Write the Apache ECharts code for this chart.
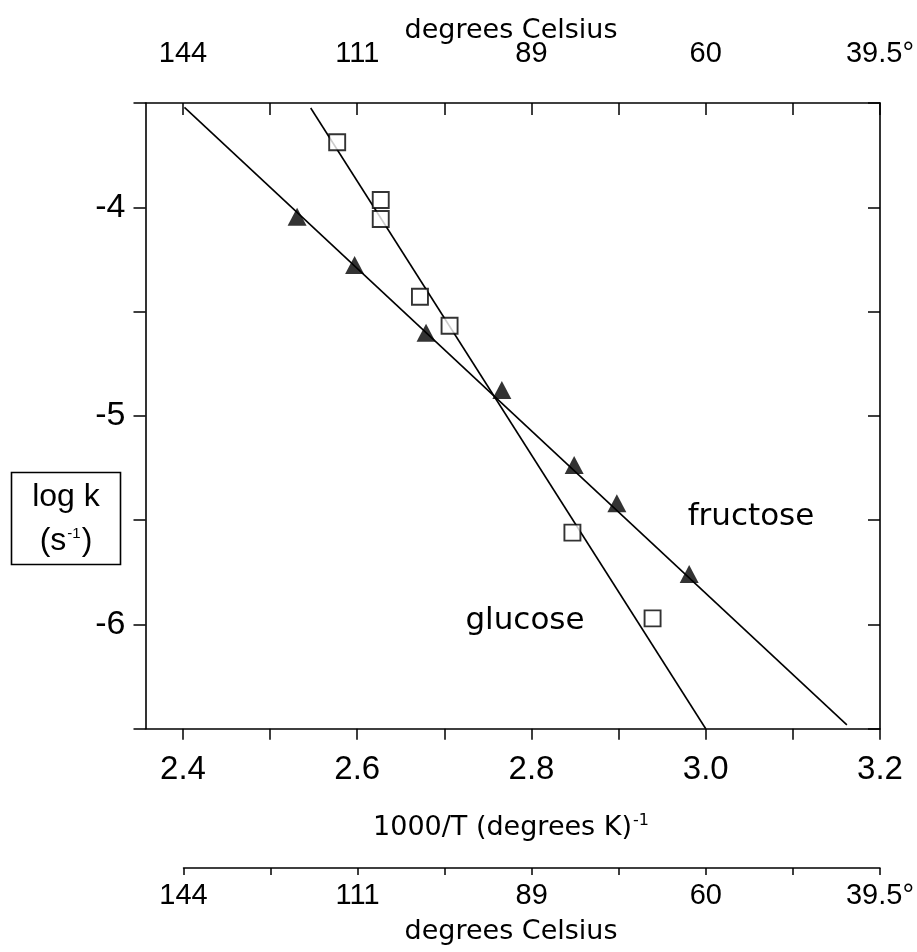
<!DOCTYPE html>
<html><head><meta charset="utf-8">
<script src="https://cdn.jsdelivr.net/npm/echarts@6/dist/echarts.min.js"></script>
<style>html,body{margin:0;padding:0;background:#fff}#c{width:917px;height:952px}</style>
</head><body><div id="c"></div>
<script>
// ---- data ----
const xTicks = [2.4, 2.5, 2.6, 2.7, 2.8, 2.9, 3.0, 3.1, 3.2];
const xLabelVals = [2.4, 2.6, 2.8, 3.0, 3.2];
const celsiusLabels = ['144', '111', '89', '60', '39.5°'];
const yTicks = [-6.5, -6, -5.5, -5, -4.5, -4, -3.5];
const yLabelVals = [-6, -5, -4];

const glucoseX = [2.577, 2.627, 2.627, 2.672, 2.706, 2.847, 2.939];
const glucoseY = [-3.688, -3.965, -4.056, -4.429, -4.568, -5.560, -5.971];
const fructoseX = [2.531, 2.597, 2.679, 2.766, 2.849, 2.898, 2.981];
const fructoseY = [-4.045, -4.277, -4.601, -4.876, -5.236, -5.419, -5.758];

const glucoseFitX = [2.5466, 3.0];
const glucoseFitY = [-3.524, -6.5];
const fructoseFitX = [2.4017, 3.162];
const fructoseFitY = [-3.521, -6.482];

// ---- helpers ----
const zip = (a, b) => a.map((v, i) => [v, b[i]]);
const near = (a, b) => Math.abs(a - b) < 1e-6;
const celsiusFmt = v => { const i = xLabelVals.findIndex(t => near(t, v)); return i < 0 ? '' : celsiusLabels[i]; };

const black = '#000';
const numFont = "'Liberation Sans', Arial, sans-serif";
const narrowFont = "'Liberation Sans Narrow', 'Arial Narrow', 'Liberation Sans', Arial, sans-serif";
const titleFont = "'DejaVu Sans', Verdana, sans-serif";

const chart = echarts.init(document.getElementById('c'), null, { renderer: 'canvas' });
chart.setOption({
  animation: false,
  backgroundColor: '#fff',
  grid: [
    { left: 145.5, right: 32, top: 103, bottom: 223.3 },
    { left: 183.5, right: 32, top: 867, height: 1 }
  ],
  xAxis: [
    {
      type: 'value', gridIndex: 0, position: 'bottom', min: 2.357, max: 3.2,
      axisLine: { show: true, onZero: false, lineStyle: { color: black, width: 1.6 } },
      axisTick: { show: true, inside: false, length: 11, customValues: xTicks, lineStyle: { color: black, width: 1.5 } },
      axisLabel: { show: true, customValues: xLabelVals, margin: 25, formatter: v => v.toFixed(1),
        color: black, fontSize: 33, fontFamily: numFont },
      splitLine: { show: false }
    },
    {
      type: 'value', gridIndex: 0, position: 'top', min: 2.357, max: 3.2,
      axisLine: { show: true, onZero: false, lineStyle: { color: black, width: 1.6 } },
      axisTick: { show: true, inside: true, length: 12, customValues: xTicks, lineStyle: { color: black, width: 1.5 } },
      axisLabel: { show: true, customValues: xLabelVals, margin: 35, formatter: celsiusFmt,
        color: black, fontSize: 29, fontFamily: narrowFont },
      splitLine: { show: false }
    },
    {
      type: 'value', gridIndex: 1, position: 'bottom', min: 2.4, max: 3.2,
      axisLine: { show: true, onZero: false, lineStyle: { color: black, width: 1.5 } },
      axisTick: { show: true, inside: false, length: 7, customValues: xTicks, lineStyle: { color: black, width: 1.5 } },
      axisLabel: { show: true, customValues: xLabelVals, margin: 13, formatter: celsiusFmt,
        color: black, fontSize: 29, fontFamily: narrowFont },
      splitLine: { show: false }
    }
  ],
  yAxis: [
    {
      type: 'value', gridIndex: 0, position: 'left', min: -6.5, max: -3.5,
      axisLine: { show: true, onZero: false, lineStyle: { color: black, width: 1.6 } },
      axisTick: { show: true, inside: false, length: 12, customValues: yTicks, lineStyle: { color: black, width: 1.5 } },
      axisLabel: { show: true, customValues: yLabelVals, margin: 20, formatter: v => String(Math.round(v)),
        color: black, fontSize: 34, fontFamily: numFont },
      splitLine: { show: false }
    },
    {
      type: 'value', gridIndex: 0, position: 'right', min: -6.5, max: -3.5,
      axisLine: { show: true, onZero: false, lineStyle: { color: black, width: 1.6 } },
      axisTick: { show: true, inside: true, length: 12, customValues: yTicks, lineStyle: { color: black, width: 1.5 } },
      axisLabel: { show: false },
      splitLine: { show: false }
    },
    { type: 'value', gridIndex: 1, min: 0, max: 1, show: false }
  ],
  series: [
    { type: 'line', xAxisIndex: 0, yAxisIndex: 0, data: zip(glucoseFitX, glucoseFitY), showSymbol: false, symbol: 'none',
      lineStyle: { color: black, width: 1.6 }, z: 2 },
    { type: 'line', xAxisIndex: 0, yAxisIndex: 0, data: zip(fructoseFitX, fructoseFitY), showSymbol: false, symbol: 'none',
      lineStyle: { color: black, width: 1.6 }, z: 2 },
    { type: 'scatter', name: 'glucose', xAxisIndex: 0, yAxisIndex: 0, data: zip(glucoseX, glucoseY), symbol: 'rect', symbolSize: 16,
      itemStyle: { color: '#fff', borderColor: black, borderWidth: 1.9 }, z: 3 },
    { type: 'scatter', name: 'fructose', xAxisIndex: 0, yAxisIndex: 0, data: zip(fructoseX, fructoseY), symbol: 'triangle', symbolSize: [19, 18],
      itemStyle: { color: '#000' }, z: 3 }
  ],
  graphic: [
    { type: 'text', x: 511, y: 31, style: { text: 'degrees Celsius', fill: black, font: "27px 'DejaVu Sans', Verdana, sans-serif", align: 'center', verticalAlign: 'middle' } },
    { type: 'text', x: 511, y: 932, style: { text: 'degrees Celsius', fill: black, font: "27px 'DejaVu Sans', Verdana, sans-serif", align: 'center', verticalAlign: 'middle' } },
    { type: 'text', x: 511, y: 828, style: {
        text: '{m|1000/T (degrees K)}{s|-1}', align: 'center', verticalAlign: 'middle',
        rich: {
          m: { fontSize: 27, fontFamily: titleFont, fill: black, color: black, lineHeight: 32 },
          s: { fontSize: 16, fontFamily: titleFont, fill: black, color: black, lineHeight: 32, padding: [0, 0, 14, 1] }
        } } },
    { type: 'text', x: 751, y: 517, style: { text: 'fructose', fill: black, font: "31px 'DejaVu Sans', Verdana, sans-serif", align: 'center', verticalAlign: 'middle' } },
    { type: 'text', x: 525, y: 621, style: { text: 'glucose', fill: black, font: "31px 'DejaVu Sans', Verdana, sans-serif", align: 'center', verticalAlign: 'middle' } },
    { type: 'rect', shape: { x: 11.5, y: 472.5, width: 109, height: 92 }, style: { fill: '#fff', stroke: black, lineWidth: 1.6 } },
    { type: 'text', x: 66, y: 497, style: { text: 'log k', fill: black, font: "32px 'Liberation Sans', Arial, sans-serif", align: 'center', verticalAlign: 'middle' } },
    { type: 'text', x: 66, y: 541, style: {
        text: '{m|(s}{s|-1}{m|)}', align: 'center', verticalAlign: 'middle',
        rich: {
          m: { fontSize: 32, fontFamily: numFont, fill: black, color: black, lineHeight: 36 },
          s: { fontSize: 15, fontFamily: numFont, fill: black, color: black, lineHeight: 36, padding: [0, 1, 14, 1] }
        } } }
  ]
});
</script>
</body></html>
